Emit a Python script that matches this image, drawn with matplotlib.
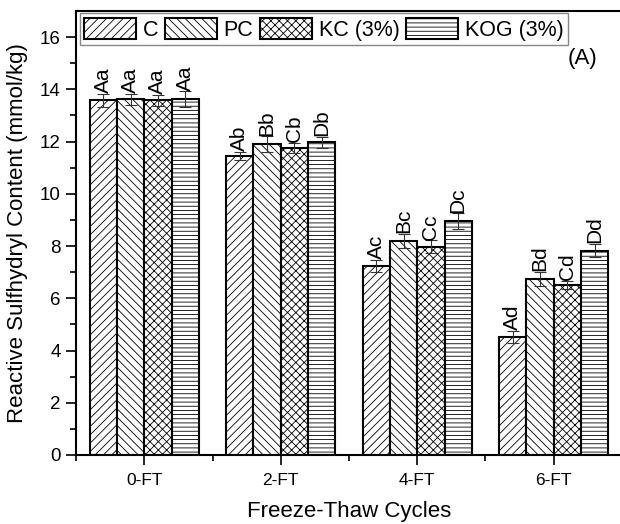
import numpy as np
import matplotlib
matplotlib.use('Agg')
import matplotlib.pyplot as plt

plt.rcParams['font.family'] = ['Liberation Sans', 'DejaVu Sans']
plt.rcParams['hatch.linewidth'] = 0.6

cycles = ['0-FT', '2-FT', '4-FT', '6-FT']
series = ['C', 'PC', 'KC (3%)', 'KOG (3%)']

c_vals = [13.58, 11.45, 7.24, 4.52]
pc_vals = [13.62, 11.90, 8.20, 6.74]
kc_vals = [13.58, 11.75, 7.97, 6.51]
kog_vals = [13.62, 11.97, 8.95, 7.82]

c_err = [0.25, 0.15, 0.22, 0.22]
pc_err = [0.2, 0.3, 0.28, 0.28]
kc_err = [0.2, 0.2, 0.25, 0.15]
kog_err = [0.3, 0.2, 0.3, 0.25]

c_lab = ['Aa', 'Ab', 'Ac', 'Ad']
pc_lab = ['Aa', 'Bb', 'Bc', 'Bd']
kc_lab = ['Aa', 'Cb', 'Cc', 'Cd']
kog_lab = ['Aa', 'Db', 'Dc', 'Dd']

hatches = ['////', '\\\\\\\\', 'xxxx', '----']

fig = plt.figure(figsize=(6.2, 5.24), dpi=100)
ax = fig.add_axes([0.1226, 0.1317, 0.8806, 0.8473])

x = np.arange(len(cycles))
w = 0.2
all_vals = [c_vals, pc_vals, kc_vals, kog_vals]
all_err = [c_err, pc_err, kc_err, kog_err]
all_lab = [c_lab, pc_lab, kc_lab, kog_lab]

for i in range(4):
    pos = x + (i - 1.5) * w
    ax.bar(pos, all_vals[i], w, color='white', edgecolor='black', linewidth=1.5,
           hatch=hatches[i], label=series[i], zorder=2)
    ax.errorbar(pos, all_vals[i], yerr=all_err[i], fmt='none', ecolor='#333333',
                elinewidth=0.8, capsize=4, capthick=0.8, zorder=3)
    for p, v, e, t in zip(pos, all_vals[i], all_err[i], all_lab[i]):
        ax.text(p, v + e + 0.03, t, rotation=90, ha='center', va='bottom', fontsize=15)

ax.set_xlim(-0.5, 3.5)
ax.set_ylim(0, 17)
ax.set_xticks(x)
ax.set_xticklabels(cycles, fontsize=12.5)
ax.set_xticks([-0.5, 0.5, 1.5, 2.5, 3.5], minor=True)
ax.set_yticks(np.arange(0, 17, 2))
ax.set_yticks(np.arange(1, 17, 2), minor=True)
ax.tick_params(axis='y', labelsize=13.5, pad=4)
ax.tick_params(axis='x', pad=6)
ax.tick_params(which='major', length=7, width=1.2, direction='out')
ax.tick_params(which='minor', length=4, width=1.2, direction='out')
for s in ax.spines.values():
    s.set_linewidth(1.5)

ax.set_xlabel('Freeze-Thaw Cycles', fontsize=16, va='center')
ax.set_ylabel('Reactive Sulfhydryl Content (mmol/kg)', fontsize=16, va='center')
ax.xaxis.set_label_coords(0.5, -0.128)
ax.yaxis.set_label_coords(-0.108, 0.5)

leg = ax.legend(loc='upper left', bbox_to_anchor=(0.007, 0.995), ncol=4, fontsize=15.5,
                frameon=True, fancybox=False, edgecolor='#888888', framealpha=1,
                handlelength=2.4, handleheight=1.15, handletextpad=0.33,
                columnspacing=0.3, borderpad=0.2, borderaxespad=0)
leg.get_frame().set_linewidth(1.0)

ax.text(0.927, 0.894, '(A)', transform=ax.transAxes, fontsize=16, ha='center', va='center')

fig.savefig('out.png', dpi=100)
